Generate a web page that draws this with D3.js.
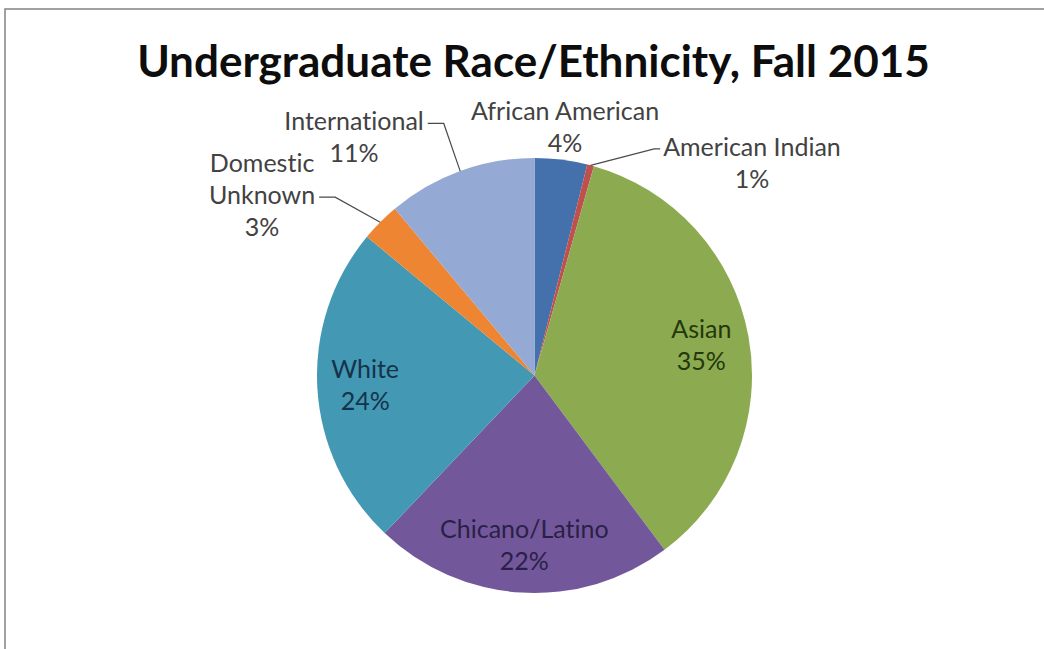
<!DOCTYPE html>
<html>
<head>
<meta charset="utf-8">
<script src="https://cdn.jsdelivr.net/npm/d3@7"></script>
<style>
  html, body { margin: 0; padding: 0; background: #fff; }
  svg { display: block; }
  text { font-variant-ligatures: none; }
</style>
</head>
<body>
<div id="chart"></div>
<script>
// Datos
const categorias = ['African American', 'American Indian', 'Asian', 'Chicano/Latino', 'White', 'Domestic Unknown', 'International'];
const porcentajes = [3.9, 0.5, 35.4, 22.3, 23.9, 2.9, 11.1];
const etiquetasPct = ['4%', '1%', '35%', '22%', '24%', '3%', '11%'];
const colores = ['#4470AB', '#C0504D', '#8CAA4F', '#72589A', '#4398B4', '#EE8532', '#94A9D4'];
const coloresTextoInterior = [null, null, '#24380d', '#2c1f47', '#15334a', null, null];
const titulo = 'Undergraduate Race/Ethnicity, Fall 2015';

// Layout
const width = 1044;
const height = 649;
const cx = 534.5, cy = 375.5, radio = 217.5;
const interior = [false, false, true, true, true, false, false];
// desplazamiento de etiquetas exteriores (como las movió Excel)
const desplazamiento = [[0, 0], [153, 29], null, null, null, [-95, -4], [-95, -3]];
const conLinea = [false, true, false, false, false, true, true];
const lineaAncla = [0, 0, 0, 0, 0, 1, 0];
const altoLinea = 32;

const svg = d3.select('#chart').append('svg')
  .attr('width', width)
  .attr('height', height);

// Marco del gráfico
svg.append('rect')
  .attr('x', 5).attr('y', 9)
  .attr('width', 1200).attr('height', 800)
  .attr('fill', 'none')
  .attr('stroke', '#8a8a8a')
  .attr('stroke-width', 1.6);

// Título
const tituloEl = svg.append('text')
  .attr('x', 533.5)
  .attr('y', 77)
  .attr('text-anchor', 'middle')
  .style('font-family', 'Lato, "Open Sans", sans-serif')
  .style('font-weight', 'bold')
  .style('font-size', '100px')
  .style('fill', '#0d0d0d')
  .text(titulo);
const anchoNatural = tituloEl.node().getComputedTextLength();
tituloEl.style('font-size', (100 * 793 / anchoNatural) + 'px');

const pie = d3.pie().sort(null).value(d => d);
const arcos = pie(porcentajes);

const arc = d3.arc().innerRadius(0).outerRadius(radio);
const arcInterior = d3.arc().innerRadius(radio * 0.78).outerRadius(radio * 0.78);
const arcBorde = d3.arc().innerRadius(radio).outerRadius(radio);
const arcFuera = d3.arc().innerRadius(radio * 1.15).outerRadius(radio * 1.15);

const g = svg.append('g').attr('transform', `translate(${cx}, ${cy})`);

g.selectAll('path.slice')
  .data(arcos)
  .enter()
  .append('path')
  .attr('class', 'slice')
  .attr('d', arc)
  .attr('fill', (d, i) => colores[i]);

// Lineas de cada etiqueta
function lineasEtiqueta(i) {
  if (categorias[i] === 'Domestic Unknown') {
    return ['Domestic', 'Unknown', etiquetasPct[i]];
  }
  return [categorias[i], etiquetasPct[i]];
}

arcos.forEach((d, i) => {
  const lineas = lineasEtiqueta(i);
  let centro;
  if (interior[i]) {
    centro = arcInterior.centroid(d);
  } else {
    const base = arcFuera.centroid(d);
    centro = [base[0] + desplazamiento[i][0], base[1] + desplazamiento[i][1]];
  }

  const texto = g.append('text')
    .attr('text-anchor', 'middle')
    .style('font-family', 'Lato, "Open Sans", sans-serif')
    .style('font-size', '25px')
    .style('fill', interior[i] ? coloresTextoInterior[i] : '#424242');

  const y0 = centro[1] - (lineas.length - 1) * altoLinea / 2;
  const tspans = lineas.map((l, k) => texto.append('tspan')
    .attr('x', centro[0])
    .attr('y', y0 + k * altoLinea)
    .attr('dy', '0.35em')
    .text(l));

  if (conLinea[i]) {
    const k = lineaAncla[i];
    const ancho = tspans[k].node().getComputedTextLength();
    const yAncla = y0 + k * altoLinea + 2;
    const borde = arcBorde.centroid(d);
    const aDerecha = centro[0] > borde[0];
    const xTexto = aDerecha ? centro[0] - ancho / 2 - 3 : centro[0] + ancho / 2 + 4;
    const gancho = aDerecha ? -6 : 16;
    const puntos = [borde, [xTexto + gancho, yAncla], [xTexto, yAncla]];
    g.append('path')
      .attr('d', d3.line()(puntos))
      .attr('fill', 'none')
      .attr('stroke', '#4a4a4a')
      .attr('stroke-width', 1.2);
  }
});
</script>
</body>
</html>
